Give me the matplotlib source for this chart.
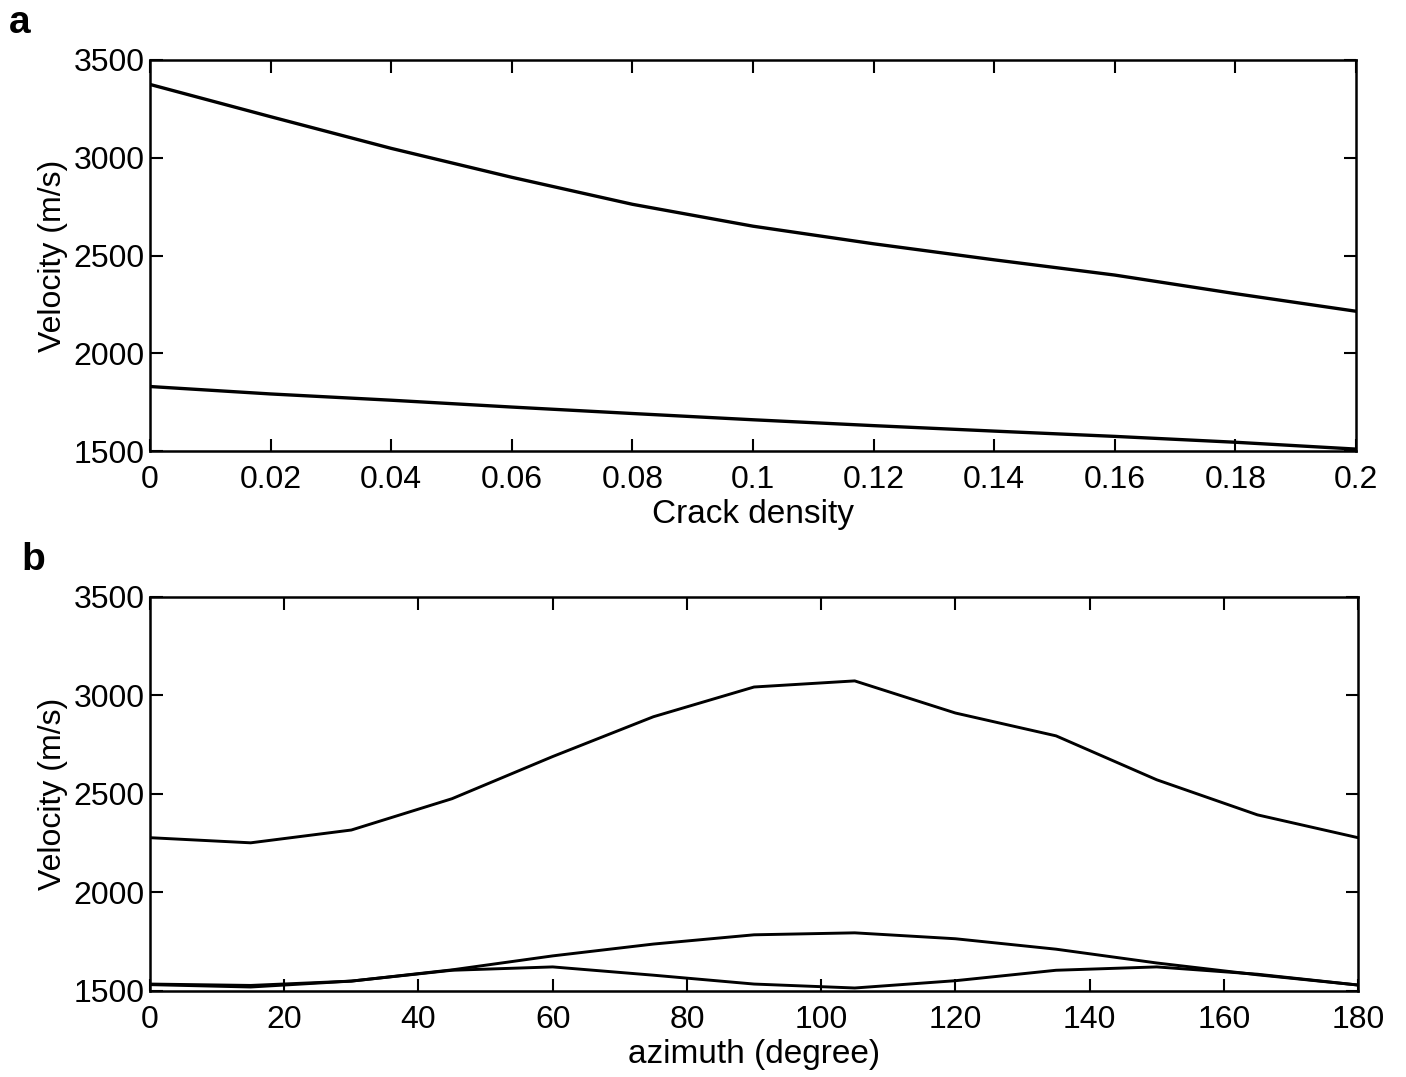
import matplotlib
matplotlib.use("Agg")
import matplotlib.pyplot as plt

plt.rcParams['font.family'] = ['Liberation Sans', 'DejaVu Sans']

# Panel a: velocity vs crack density
crack_density = [0.0, 0.02, 0.04, 0.06, 0.08, 0.10, 0.12, 0.14, 0.16, 0.18, 0.20]
vel_a_upper = [3375, 3210, 3048, 2900, 2762, 2650, 2560, 2478, 2400, 2305, 2215]
vel_a_lower = [1830, 1792, 1760, 1725, 1692, 1660, 1630, 1602, 1575, 1545, 1510]
xticks_a = [0, 0.02, 0.04, 0.06, 0.08, 0.1, 0.12, 0.14, 0.16, 0.18, 0.2]
xticklabels_a = ['0', '0.02', '0.04', '0.06', '0.08', '0.1', '0.12', '0.14', '0.16', '0.18', '0.2']

# Panel b: velocity vs azimuth
azimuth = [0, 15, 30, 45, 60, 75, 90, 105, 120, 135, 150, 165, 180]
vel_b_upper = [2278, 2252, 2317, 2476, 2690, 2892, 3043, 3074, 2911, 2795, 2572, 2394, 2278]
vel_b_mid = [1535, 1528, 1550, 1607, 1678, 1738, 1785, 1795, 1765, 1712, 1642, 1582, 1530]
vel_b_low = [1532, 1520, 1550, 1605, 1622, 1580, 1535, 1515, 1552, 1605, 1622, 1585, 1530]
xticks_b = [0, 20, 40, 60, 80, 100, 120, 140, 160, 180]
yticks = [1500, 2000, 2500, 3000, 3500]

fig = plt.figure(figsize=(14.06, 10.77), dpi=100)
ax1 = fig.add_axes([0.1067, 0.5812, 0.8577, 0.3631])
ax2 = fig.add_axes([0.1067, 0.0799, 0.8592, 0.3658])

lw = 2.4
ax1.plot(crack_density, vel_a_upper, color='black', lw=lw)
ax1.plot(crack_density, vel_a_lower, color='black', lw=lw)
ax2.plot(azimuth, vel_b_upper, color='black', lw=2.1)
ax2.plot(azimuth, vel_b_mid, color='black', lw=2.1)
ax2.plot(azimuth, vel_b_low, color='black', lw=2.1)

ax1.set_xlim(0, 0.2)
ax1.set_xticks(xticks_a)
ax1.set_xticklabels(xticklabels_a)
ax2.set_xlim(0, 180)
ax2.set_xticks(xticks_b)

fs = 23
for ax in (ax1, ax2):
    ax.set_ylim(1500, 3500)
    ax.set_yticks(yticks)
    ax.tick_params(direction='in', length=9, width=1.5, top=True, right=True,
                   labelsize=fs)
    ax.tick_params(axis='y', pad=4)
    ax.tick_params(axis='x', pad=10)
    for s in ax.spines.values():
        s.set_linewidth(1.8)
    ax.set_ylabel('Velocity (m/s)', fontsize=fs, labelpad=4)

ax1.set_xlabel('Crack density', fontsize=fs + 1, labelpad=3)
ax2.set_xlabel('azimuth (degree)', fontsize=fs + 1, labelpad=3)

fig.text(0.006, 0.995, 'a', fontsize=28, fontweight='bold', va='top', ha='left')
fig.text(0.015, 0.497, 'b', fontsize=28, fontweight='bold', va='top', ha='left')

fig.savefig('out.png', dpi=100)
